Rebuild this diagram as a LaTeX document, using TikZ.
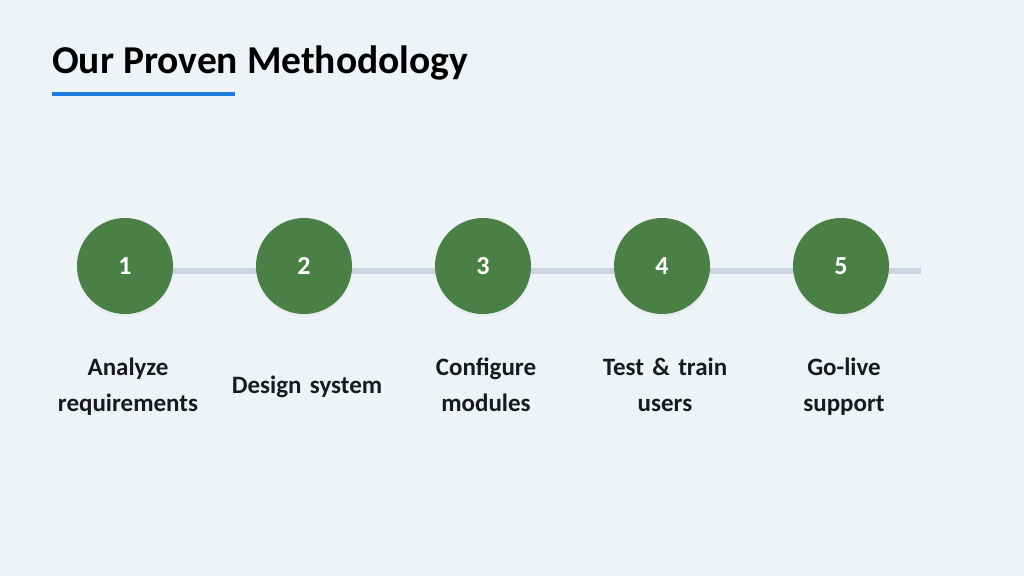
\documentclass[tikz,border=0pt]{standalone}
\usepackage{fontspec}
\setmainfont{Carlito}
\usetikzlibrary{positioning, shadows, backgrounds}
\definecolor{pagebg}{HTML}{EEF3F8}
\definecolor{stepgreen}{HTML}{4A8045}
\definecolor{trackgray}{HTML}{CBD5E1}
\definecolor{accentblue}{HTML}{1E7BE0}
\definecolor{inkdark}{HTML}{1A1A1A}
\tikzstyle{stepdot} = [circle, fill=stepgreen, minimum size=96pt, inner sep=0pt, text=white,
font=\bfseries\fontsize{26}{26}\selectfont, circular drop shadow={shadow xshift=0pt,
shadow yshift=-2pt, shadow scale=1.03, opacity=0.15}]
\tikzstyle{caption} = [text width=170pt, align=center, text=inkdark, inner sep=0pt,
font=\bfseries\fontsize{25}{36}\selectfont, execute at begin node=\strut,
execute at end node=\strut]
\tikzstyle{track} = [line width=6pt, draw=trackgray]
\tikzstyle{accent} = [line width=4pt, draw=accentblue]

\begin{document}
\begin{tikzpicture}[x=1pt, y=-1pt, on grid, node distance=179pt]
    %Title
    \node (title) [anchor=base west, inner sep=0pt, text=black,
        font=\bfseries\fontsize{39.5}{39.5}\selectfont] at (52,73) {Our Proven Methodology};
    \coordinate (ruleStart) at (52,94);
    \coordinate (ruleEnd) at (235,94);
    \draw [accent] (ruleStart) -- (ruleEnd);

    %Step circles
    \node (s1) [stepdot] at (125,266) {1};
    \node (s2) [stepdot, right=of s1] {2};
    \node (s3) [stepdot, right=of s2] {3};
    \node (s4) [stepdot, right=of s3] {4};
    \node (s5) [stepdot, right=of s4] {5};

    %Step captions
    \node (t1) [caption, below=120pt of s1, xshift=3pt] {Analyze\\requirements};
    \node (t2) [caption, below=120pt of s2, xshift=3pt] {Design system};
    \node (t3) [caption, below=120pt of s3, xshift=3pt] {Configure\\modules};
    \node (t4) [caption, below=120pt of s4, xshift=3pt] {Test \& train\\users};
    \node (t5) [caption, below=120pt of s5, xshift=3pt] {Go-live\\support};

    %Track behind the circles
    \coordinate (trackStart) at ([yshift=-5pt]s1.center);
    \coordinate (trackEnd) at (921,271);
    \begin{pgfonlayer}{background}
        \fill [pagebg] (0,0) rectangle (1024,576);
        \draw [track] (trackStart) -- (trackEnd);
    \end{pgfonlayer}
    \useasboundingbox (0,0) rectangle (1024,576);
\end{tikzpicture}
\end{document}
